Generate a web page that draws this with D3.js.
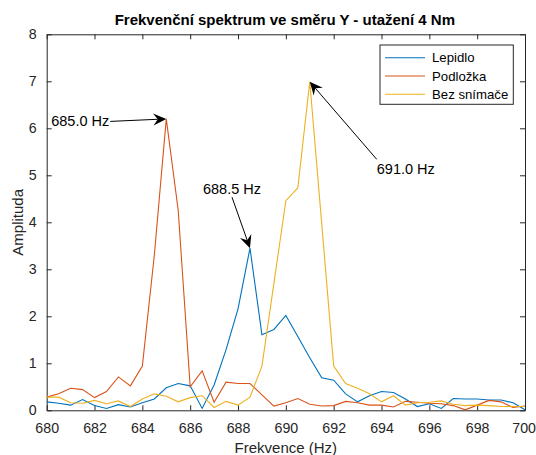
<!DOCTYPE html>
<html>
<head>
<meta charset="utf-8">
<script src="https://cdn.jsdelivr.net/npm/d3@7"></script>
<style>
  body { margin: 0; background: #fff; }
  svg { font-family: "Liberation Sans", Arial, sans-serif; }
</style>
</head>
<body>
<div id="chart"></div>
<script>
// frequencies (Hz)
var freq = [680, 680.5, 681, 681.5, 682, 682.5, 683, 683.5, 684, 684.5,
            685, 685.5, 686, 686.5, 687, 687.5, 688, 688.5, 689, 689.5,
            690, 690.5, 691, 691.5, 692, 692.5, 693, 693.5, 694, 694.5,
            695, 695.5, 696, 696.5, 697, 697.5, 698, 698.5, 699, 699.5, 700];

var lepidlo = [0.18, 0.15, 0.11, 0.23, 0.10, 0.04, 0.12, 0.07, 0.16, 0.24,
               0.48, 0.57, 0.52, 0.04, 0.54, 1.29, 2.16, 3.45, 1.61, 1.72,
               2.02, 1.57, 1.12, 0.69, 0.64, 0.35, 0.18, 0.31, 0.40, 0.38,
               0.24, 0.08, 0.14, 0.04, 0.25, 0.24, 0.24, 0.22, 0.22, 0.16, 0.01];

var podlozka = [0.28, 0.35, 0.47, 0.44, 0.27, 0.40, 0.71, 0.52, 0.94, 3.30,
                6.20, 4.25, 0.50, 0.84, 0.17, 0.60, 0.57, 0.57, 0.33, 0.09,
                0.16, 0.25, 0.13, 0.09, 0.10, 0.19, 0.16, 0.11, 0.11, 0.07,
                0.19, 0.17, 0.15, 0.14, 0.10, 0.01, 0.11, 0.21, 0.18, 0.06, 0.09];

var bezSnimace = [0.28, 0.28, 0.16, 0.15, 0.21, 0.14, 0.20, 0.08, 0.24, 0.35,
                  0.30, 0.18, 0.27, 0.31, 0.06, 0.19, 0.11, 0.28, 0.94, 2.70,
                  4.46, 4.73, 6.99, 3.97, 0.94, 0.57, 0.47, 0.35, 0.18, 0.31,
                  0.11, 0.16, 0.17, 0.20, 0.13, 0.10, 0.11, 0.10, 0.08, 0.08, 0.08];

var seriesNames = ["Lepidlo", "Podložka", "Bez snímače"];
var seriesColors = ["#0072BD", "#D95319", "#EDB120"];

var xTicks = [680, 682, 684, 686, 688, 690, 692, 694, 696, 698, 700];
var yTicks = [0, 1, 2, 3, 4, 5, 6, 7, 8];

// peak annotations: label, series index, point index
var peakLabels = ["685.0 Hz", "688.5 Hz", "691.0 Hz"];
var peakSeries = [1, 0, 2];
var peakIndex = [10, 17, 22];

var W = 536, H = 455;
var margin = {top: 34.3, right: 11, bottom: 44.7, left: 46.7};
var width = W - margin.left - margin.right,
    height = H - margin.top - margin.bottom;

var svg = d3.select("#chart").append("svg")
    .attr("width", W)
    .attr("height", H);

var g = svg.append("g")
    .attr("transform", "translate(" + margin.left + "," + margin.top + ")");

var x = d3.scaleLinear().domain([680, 700]).range([0, width]);
var y = d3.scaleLinear().domain([0, 8]).range([height, 0]);

var axisColor = "#262626";

// axes (ticks inside, box on)
var xAxis = g.append("g")
    .attr("transform", "translate(0," + height + ")")
    .call(d3.axisBottom(x).tickValues(xTicks).tickSizeInner(-5).tickSizeOuter(0).tickPadding(13));
var xTop = g.append("g")
    .call(d3.axisTop(x).tickValues(xTicks).tickSizeInner(-5).tickSizeOuter(0).tickFormat(""));
var yAxis = g.append("g")
    .call(d3.axisLeft(y).tickValues(yTicks).tickSizeInner(-5).tickSizeOuter(0).tickPadding(10));
var yRight = g.append("g")
    .attr("transform", "translate(" + width + ",0)")
    .call(d3.axisRight(y).tickValues(yTicks).tickSizeInner(-5).tickSizeOuter(0).tickFormat(""));

[xAxis, xTop, yAxis, yRight].forEach(function(a) {
  a.selectAll("path").attr("stroke", axisColor).attr("stroke-width", 1);
  a.selectAll("line").attr("stroke", axisColor).attr("stroke-width", 1);
  a.selectAll("text").attr("fill", axisColor).style("font-size", "14.2px")
    .style("font-family", "Liberation Sans, Arial, sans-serif");
});
// keep last x label inside the window
xAxis.selectAll(".tick text").filter(function(d) { return d == 700; })
    .attr("text-anchor", "end").attr("x", 10.5);

// lines
var allSeries = [lepidlo, podlozka, bezSnimace];
var line = d3.line()
    .x(function(d, i) { return x(freq[i]); })
    .y(function(d) { return y(d); });

g.selectAll(".series")
    .data(allSeries)
  .enter().append("path")
    .attr("class", "series")
    .attr("fill", "none")
    .attr("stroke", function(d, i) { return seriesColors[i]; })
    .attr("stroke-width", 1.1)
    .attr("d", line);

// annotations
var tailOffsets = [[-56, 2.5], [-18, -51], [67, 77.6]];
peakLabels.forEach(function(label, k) {
  var px = x(freq[peakIndex[k]]),
      py = y(allSeries[peakSeries[k]][peakIndex[k]]);
  var tx = px + tailOffsets[k][0],
      ty = py + tailOffsets[k][1];
  var ang = Math.atan2(py - ty, px - tx);
  var L = 13, Wd = 12, notch = 4.5;
  // shaft stops inside head
  var sx = px - Math.cos(ang) * (L - notch),
      sy = py - Math.sin(ang) * (L - notch);
  g.append("line")
    .attr("x1", tx).attr("y1", ty)
    .attr("x2", sx).attr("y2", sy)
    .attr("stroke", "#000").attr("stroke-width", 1);
  var head = "M0,0 L" + (-L) + "," + (-Wd / 2) + " L" + (-L + notch) + ",0 L" + (-L) + "," + (Wd / 2) + " Z";
  g.append("path")
    .attr("d", head)
    .attr("fill", "#000")
    .attr("transform", "translate(" + px + "," + py + ") rotate(" + (ang * 180 / Math.PI) + ")");

  var t = g.append("text")
    .text(label)
    .attr("fill", "#000")
    .style("font-size", "14.5px");
  if (k == 0) {
    t.attr("x", tx - 1).attr("y", ty + 5).attr("text-anchor", "end");
  } else if (k == 1) {
    t.attr("x", tx).attr("y", ty - 3).attr("text-anchor", "middle");
  } else {
    t.attr("x", tx).attr("y", ty + 15).attr("text-anchor", "start");
  }
});

// legend
var legend = g.append("g")
    .attr("transform", "translate(" + (width - 145) + ",10.7)");
legend.append("rect")
    .attr("width", 133.3).attr("height", 59.3)
    .attr("fill", "#fff")
    .attr("stroke", axisColor).attr("stroke-width", 1);
seriesNames.forEach(function(name, i) {
  var ly = 12.7 + i * 18.3;
  legend.append("line")
    .attr("x1", 5).attr("x2", 45)
    .attr("y1", ly).attr("y2", ly)
    .attr("stroke", seriesColors[i]).attr("stroke-width", 1.1);
  legend.append("text")
    .attr("x", 52).attr("y", ly + 4.7)
    .attr("fill", "#000")
    .style("font-size", "13.2px")
    .text(name);
});

// title and labels
svg.append("text")
    .attr("x", margin.left + width / 2 - 1).attr("y", 25)
    .attr("text-anchor", "middle")
    .attr("fill", "#000")
    .style("font-size", "15px").style("font-weight", "bold")
    .text("Frekvenční spektrum ve směru Y - utažení 4 Nm");

svg.append("text")
    .attr("x", margin.left + width / 2).attr("y", 453)
    .attr("text-anchor", "middle")
    .attr("fill", axisColor)
    .style("font-size", "15px")
    .text("Frekvence (Hz)");

svg.append("text")
    .attr("transform", "translate(22.5," + (margin.top + height / 2) + ") rotate(-90)")
    .attr("text-anchor", "middle")
    .attr("fill", axisColor)
    .style("font-size", "15px")
    .text("Amplituda");
</script>
</body>
</html>
